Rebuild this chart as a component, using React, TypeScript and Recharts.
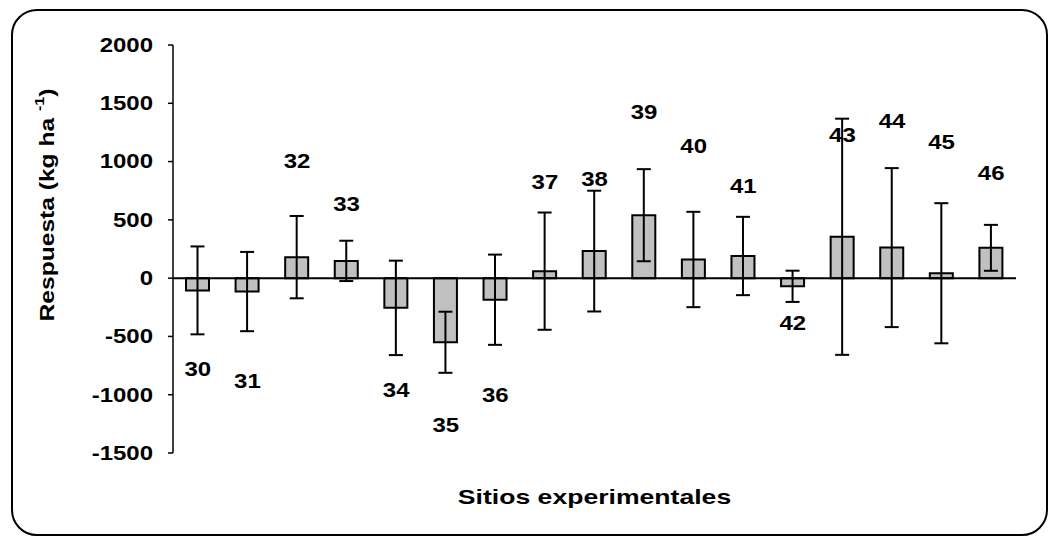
import React from 'react';
import {
  ComposedChart,
  Bar,
  Line,
  XAxis,
  YAxis,
  ErrorBar,
  ReferenceLine,
  LabelList,
} from 'recharts';

// Sitios experimentales y respuesta media (kg ha-1) con su desvío
const sites = ['30', '31', '32', '33', '34', '35', '36', '37', '38', '39', '40', '41', '42', '43', '44', '45', '46'];
const respuesta = [-105, -115, 180, 148, -255, -550, -185, 60, 232, 540, 160, 190, -70, 355, 262, 42, 260];
const desvio = [377, 340, 353, 173, 405, 262, 387, 503, 518, 395, 409, 336, 134, 1013, 682, 601, 197];
// Altura (en kg ha-1) donde va rotulado cada sitio
const rotuloEn = [-780, -880, 1000, 630, -960, -1260, -1000, 820, 850, 1420, 1130, 790, -390, 1230, 1345, 1165, 900];
const yTicks = [-1500, -1000, -500, 0, 500, 1000, 1500, 2000];

const data = sites.map((s, i) => ({
  site: s,
  value: respuesta[i],
  err: desvio[i],
  labelAt: rotuloEn[i],
}));

const FONT = "'Liberation Sans', Arial, Helvetica, sans-serif";
const SIZE = 20;
const SX = 1.2;

function WideText(props: {
  x: number;
  y: number;
  anchor?: 'start' | 'middle' | 'end';
  sx?: number;
  children: React.ReactNode;
}) {
  const { x, y, anchor = 'middle', sx = SX, children } = props;
  return (
    <text
      transform={`translate(${x},${y}) scale(${sx},1)`}
      textAnchor={anchor}
      dominantBaseline="central"
      fontFamily={FONT}
      fontWeight="bold"
      fontSize={SIZE}
      fill="#000"
    >
      {children}
    </text>
  );
}

const YTick = (p: any) => (
  <WideText x={p.x} y={p.y} anchor="end">
    {p.payload.value}
  </WideText>
);

const SiteLabel = (p: any) => {
  if (p.x == null || p.y == null) return null;
  return (
    <WideText x={p.x} y={p.y}>
      {p.value}
    </WideText>
  );
};

const YTitle = () => (
  <text
    transform="translate(47,205) rotate(-90) scale(1.23,1)"
    textAnchor="middle"
    dominantBaseline="central"
    fontFamily={FONT}
    fontWeight="bold"
    fontSize={SIZE}
    fill="#000"
  >
    Respuesta (kg ha{' '}
    <tspan fontSize={13} baselineShift="super">
      -1
    </tspan>
    )
  </text>
);

const XTitle = (p: any) => {
  const vb = p.viewBox || {};
  return (
    <WideText x={(vb.x ?? 173) + (vb.width ?? 843) / 2} y={497} sx={1.33}>
      Sitios experimentales
    </WideText>
  );
};

export default function App() {
  return (
    <div
      style={{
        position: 'absolute',
        left: 0,
        top: 0,
        width: 1049,
        height: 536,
        background: '#fff',
        overflow: 'hidden',
      }}
    >
      <div
        style={{
          position: 'absolute',
          left: 11,
          top: 9,
          width: 1037,
          height: 527,
          border: '2px solid #000',
          borderRadius: 26,
          boxSizing: 'border-box',
        }}
      />
      <div style={{ position: 'absolute', left: 0, top: 0 }}>
        <ComposedChart
          width={1049}
          height={536}
          data={data}
          margin={{ top: 45, right: 33, bottom: 0, left: 0 }}
        >
          <XAxis
            dataKey="site"
            height={83}
            axisLine={false}
            tickLine={false}
            tick={false}
            label={{ content: XTitle }}
          />
          <YAxis
            width={173}
            domain={[-1500, 2000]}
            ticks={yTicks}
            interval={0}
            allowDataOverflow
            axisLine={{ stroke: '#000', strokeWidth: 1.5 }}
            tickLine={{ stroke: '#000', strokeWidth: 1.5 }}
            tickSize={5}
            tickMargin={15}
            tick={YTick}
            label={{ content: YTitle }}
          />
          <ReferenceLine y={0} stroke="#000" strokeWidth={2} />
          <Bar
            dataKey="value"
            fill="#c0c0c0"
            stroke="#000"
            strokeWidth={2}
            barSize={23}
            isAnimationActive={false}
          >
            <ErrorBar dataKey="err" direction="y" width={7} stroke="#000" strokeWidth={2} />
          </Bar>
          <Line
            dataKey="labelAt"
            stroke="none"
            dot={false}
            activeDot={false}
            legendType="none"
            isAnimationActive={false}
          >
            <LabelList dataKey="site" content={SiteLabel} />
          </Line>
        </ComposedChart>
      </div>
    </div>
  );
}
